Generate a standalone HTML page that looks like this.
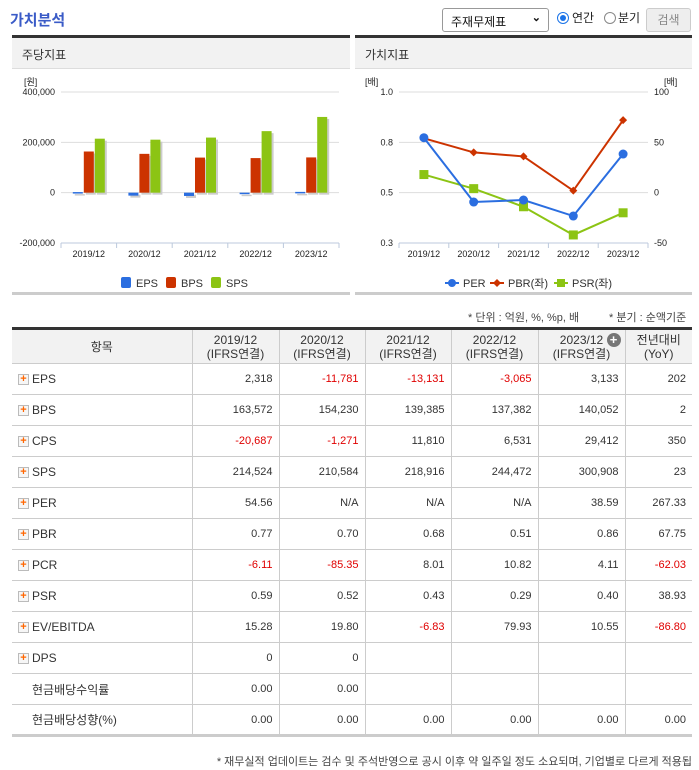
<!DOCTYPE html>
<html><head><meta charset="utf-8">
<style>
*{margin:0;padding:0;box-sizing:border-box}
body{width:699px;height:770px;background:#fff;font-family:"Liberation Sans","Noto Sans CJK KR",sans-serif;color:#333;position:relative;overflow:hidden}
.abs{position:absolute}
.title{left:10px;top:9px;font-size:15px;color:#3a5bc7;font-weight:bold}
.sel{left:442px;top:8px;width:107px;height:24px;border:1px solid #999;border-radius:3px;font-size:12px;padding:4px 8px;color:#111}
.sel span{position:absolute;right:7px;top:2px;font-size:11px;font-weight:bold}
.radio{top:12px;width:12px;height:12px;border-radius:50%;border:1px solid #888;background:#fff}
.radio.on{border:1px solid #1a73e8}
.radio.on::after{content:"";position:absolute;left:2px;top:2px;width:6px;height:6px;border-radius:50%;background:#1a73e8}
.rlab{top:9px;font-size:12px;color:#222}
.btn{left:646px;top:8px;width:45px;height:24px;border:1px solid #ccc;border-radius:3px;background:#eee;color:#888;font-size:12px;text-align:center;line-height:22px}
.panel{top:35px;border-top:3px solid #333;height:260px;border-bottom:3px solid #ccc}
.phead{height:31px;background:#f2f2f2;border-bottom:1px solid #ddd;font-size:12px;padding:8px 0 0 10px;color:#333}
svg text{font-family:"Liberation Sans","Noto Sans CJK KR",sans-serif}
.note{top:309px;font-size:11px;color:#444}
table{position:absolute;left:12px;top:327px;width:680px;border-collapse:collapse;border-top:3px solid #333;border-bottom:3px solid #ccc;font-size:11px}
td,th{border:1px solid #ccc;border-left:1px solid #ccc;height:31px;text-align:right;padding-right:6px;color:#333;font-weight:normal}
tr td:first-child,tr th:first-child{border-left:none}
tr td:last-child,tr th:last-child{border-right:none}
th{background:#f2f2f2;text-align:center;padding:0;height:35px;line-height:14px;font-size:12px}
td.lbl{text-align:left;padding-left:6px;font-size:12px}
td.lbl2{padding-left:20px}
.plus{display:inline-block;width:11px;height:11px;border:1px solid #bbb;background:#f6f6f6;color:#f60;font-size:11px;line-height:9px;text-align:center;font-weight:bold;vertical-align:middle;margin-right:3px}
.neg{color:#e00000}
.foot{right:7px;top:753px;font-size:11px;color:#444}
</style></head><body>
<div class="abs title">가치분석</div>
<div class="abs sel">주재무제표<span>⌄</span></div>
<div class="abs radio on" style="left:557px"></div>
<div class="abs rlab" style="left:572px">연간</div>
<div class="abs radio" style="left:604px"></div>
<div class="abs rlab" style="left:618px">분기</div>
<div class="abs btn">검색</div>

<div class="abs panel" style="left:12px;width:338px">
<div class="phead">주당지표</div>
</div>
<div class="abs panel" style="left:355px;width:337px">
<div class="phead">가치지표</div>
</div>
<svg class="abs" style="left:0;top:0" width="699" height="300" id="charts"></svg>

<div class="abs note" style="left:468px">* 단위 : 억원, %, %p, 배</div>
<div class="abs note" style="left:609px">* 분기 : 순액기준</div>

<table>
<tr><th style="width:180px">항목</th><th style="width:87px">2019/12<br>(IFRS연결)</th><th style="width:86px">2020/12<br>(IFRS연결)</th><th style="width:86px">2021/12<br>(IFRS연결)</th><th style="width:87px">2022/12<br>(IFRS연결)</th><th style="width:87px;position:relative">2023/12<br>(IFRS연결)<span style="position:absolute;right:4px;top:3px;width:14px;height:14px;border-radius:50%;background:#777;color:#fff;font-size:13px;line-height:14px;font-weight:bold">+</span></th><th>전년대비<br>(YoY)</th></tr>
<tr><td class="lbl"><span class="plus">+</span>EPS</td><td>2,318</td><td class="neg">-11,781</td><td class="neg">-13,131</td><td class="neg">-3,065</td><td>3,133</td><td>202</td></tr>
<tr><td class="lbl"><span class="plus">+</span>BPS</td><td>163,572</td><td>154,230</td><td>139,385</td><td>137,382</td><td>140,052</td><td>2</td></tr>
<tr><td class="lbl"><span class="plus">+</span>CPS</td><td class="neg">-20,687</td><td class="neg">-1,271</td><td>11,810</td><td>6,531</td><td>29,412</td><td>350</td></tr>
<tr><td class="lbl"><span class="plus">+</span>SPS</td><td>214,524</td><td>210,584</td><td>218,916</td><td>244,472</td><td>300,908</td><td>23</td></tr>
<tr><td class="lbl"><span class="plus">+</span>PER</td><td>54.56</td><td>N/A</td><td>N/A</td><td>N/A</td><td>38.59</td><td>267.33</td></tr>
<tr><td class="lbl"><span class="plus">+</span>PBR</td><td>0.77</td><td>0.70</td><td>0.68</td><td>0.51</td><td>0.86</td><td>67.75</td></tr>
<tr><td class="lbl"><span class="plus">+</span>PCR</td><td class="neg">-6.11</td><td class="neg">-85.35</td><td>8.01</td><td>10.82</td><td>4.11</td><td class="neg">-62.03</td></tr>
<tr><td class="lbl"><span class="plus">+</span>PSR</td><td>0.59</td><td>0.52</td><td>0.43</td><td>0.29</td><td>0.40</td><td>38.93</td></tr>
<tr><td class="lbl"><span class="plus">+</span>EV/EBITDA</td><td>15.28</td><td>19.80</td><td class="neg">-6.83</td><td>79.93</td><td>10.55</td><td class="neg">-86.80</td></tr>
<tr><td class="lbl"><span class="plus">+</span>DPS</td><td>0</td><td>0</td><td></td><td></td><td></td><td></td></tr>
<tr><td class="lbl lbl2">현금배당수익률</td><td>0.00</td><td>0.00</td><td></td><td></td><td></td><td></td></tr>
<tr><td class="lbl lbl2">현금배당성향(%)</td><td>0.00</td><td>0.00</td><td>0.00</td><td>0.00</td><td>0.00</td><td>0.00</td></tr>
</table>
<div class="abs foot">* 재무실적 업데이트는 검수 및 주석반영으로 공시 이후 약 일주일 정도 소요되며, 기업별로 다르게 적용됩</div>

<script>
const categories=["2019/12","2020/12","2021/12","2022/12","2023/12"];
const epsValues=[2318,-11781,-13131,-3065,3133];
const bpsValues=[163572,154230,139385,137382,140052];
const spsValues=[214524,210584,218916,244472,300908];
const leftTicks=[400000,200000,0,-200000];
const leftTickLabels=["400,000","200,000","0","-200,000"];
const perValues=[54.56,-9.3,-7.3,-23.2,38.4];
const pbrValues=[0.77,0.70,0.68,0.51,0.86];
const psrValues=[0.59,0.52,0.43,0.29,0.40];
const ratioTicks=[1.0,0.75,0.5,0.25];
const ratioTickLabels=["1.0","0.8","0.5","0.3"];
const perTicks=[100,50,0,-50];
const perTickLabels=["100","50","0","-50"];

const svg=document.getElementById('charts');
const NS="http://www.w3.org/2000/svg";
function mk(tag,attrs,name,parent){const e=document.createElementNS(NS,tag);for(const k in attrs)e.setAttribute(k,attrs[k]);


(parent||svg).appendChild(e);return e;}
function txt(x,y,s,anchor,name,size,fill){const t=mk('text',{x:x,y:y,'text-anchor':anchor,'font-size':size||9,fill:fill||'#222'},name);t.textContent=s;return t;}
const PTOP=92,PBOT=243;
// left chart
const L0=61,L1=339;
const yL=v=>PBOT-(v+200000)/600000*(PBOT-PTOP);
const gwL=(L1-L0)/categories.length;
const xL=i=>L0+gwL*(i+0.5);
leftTicks.forEach((t,i)=>{const y=yL(t);mk('line',{x1:L0,x2:L1,y1:y,y2:y,stroke:i==3?'#bcc9dc':'#ddd'},'left-gridline');txt(L0-6,y+3,leftTickLabels[i],'end','left-y-tick');});
txt(24,85,'[원]','start','left-y-unit',9);
for(let i=0;i<=categories.length;i++){const x=L0+gwL*i;mk('line',{x1:x,x2:x,y1:PBOT,y2:PBOT+5,stroke:'#bcc9dc'},'left-x-tick-mark');}
categories.forEach((c,i)=>txt(xL(i),257,c,'middle','left-x-tick'));
const series=[[epsValues,'#2b6ee0',-11,'eps-bar'],[bpsValues,'#cc3300',0,'bps-bar'],[spsValues,'#8cc414',11,'sps-bar']];
series.forEach(s=>s[0].forEach((v,i)=>{const y0=yL(0),y=yL(v);const x=xL(i)+s[2]-5;
mk('rect',{x:x+2,y:Math.min(y,y0)+2,width:10,height:Math.max(Math.abs(y0-y),1.5),fill:'#ccc'},'bar-shadow');
mk('rect',{x:x,y:Math.min(y,y0),width:10,height:Math.max(Math.abs(y0-y),1.5),fill:s[1]},s[3]);}));
[['EPS','#2b6ee0',121],['BPS','#cc3300',166],['SPS','#8cc414',211]].forEach(l=>{mk('rect',{x:l[2],y:277,width:10,height:11,rx:2,fill:l[1]},'legend-swatch');txt(l[2]+15,287,l[0],'start','legend-entry',11,'#333');});
// right chart
const R0=399,R1=648;
const yR=v=>PBOT-(v-0.25)/0.75*(PBOT-PTOP);
const yP=v=>PBOT-(v+50)/150*(PBOT-PTOP);
const gwR=(R1-R0)/categories.length;
const xR=i=>R0+gwR*(i+0.5);
ratioTicks.forEach((t,i)=>{const y=yR(t);mk('line',{x1:R0,x2:R1,y1:y,y2:y,stroke:i==3?'#bcc9dc':'#ddd'},'right-gridline');txt(R0-6,y+3,ratioTickLabels[i],'end','ratio-y-tick');});
perTicks.forEach((t,i)=>txt(R1+6,yP(t)+3,perTickLabels[i],'start','per-y-tick'));
txt(365,85,'[배]','start','ratio-y-unit');txt(664,85,'[배]','start','per-y-unit');
for(let i=0;i<=categories.length;i++){const x=R0+gwR*i;mk('line',{x1:x,x2:x,y1:PBOT,y2:PBOT+5,stroke:'#bcc9dc'},'right-x-tick-mark');}
categories.forEach((c,i)=>txt(xR(i),257,c,'middle','right-x-tick'));
function line(vals,f,color,name){mk('polyline',{points:vals.map((v,i)=>xR(i)+','+f(v)).join(' '),fill:'none',stroke:color,'stroke-width':2},name+'-line');}
line(pbrValues,yR,'#cc3300','pbr');line(psrValues,yR,'#8cc414','psr');line(perValues,yP,'#2b6ee0','per');
pbrValues.forEach((v,i)=>{const x=xR(i),y=yR(v);mk('path',{d:`M${x} ${y-4}L${x+4} ${y}L${x} ${y+4}L${x-4} ${y}Z`,fill:'#cc3300'},'pbr-point');});
psrValues.forEach((v,i)=>mk('rect',{x:xR(i)-4.5,y:yR(v)-4.5,width:9,height:9,fill:'#8cc414'},'psr-point'));
perValues.forEach((v,i)=>mk('circle',{cx:xR(i),cy:yP(v),r:4.5,fill:'#2b6ee0'},'per-point'));
// legend
mk('line',{x1:445,x2:459,y1:283,y2:283,stroke:'#2b6ee0','stroke-width':2},'legend-line');mk('circle',{cx:452,cy:283,r:4,fill:'#2b6ee0'},'legend-marker');txt(463,287,'PER','start','legend-entry',11,'#333');
mk('line',{x1:490,x2:504,y1:283,y2:283,stroke:'#cc3300','stroke-width':2},'legend-line');mk('path',{d:'M497 279L501 283L497 287L493 283Z',fill:'#cc3300'},'legend-marker');txt(508,287,'PBR(좌)','start','legend-entry',11,'#333');
mk('line',{x1:554,x2:568,y1:283,y2:283,stroke:'#8cc414','stroke-width':2},'legend-line');mk('rect',{x:557,y:279,width:8,height:8,fill:'#8cc414'},'legend-marker');txt(572,287,'PSR(좌)','start','legend-entry',11,'#333');
</script>
</body></html>
